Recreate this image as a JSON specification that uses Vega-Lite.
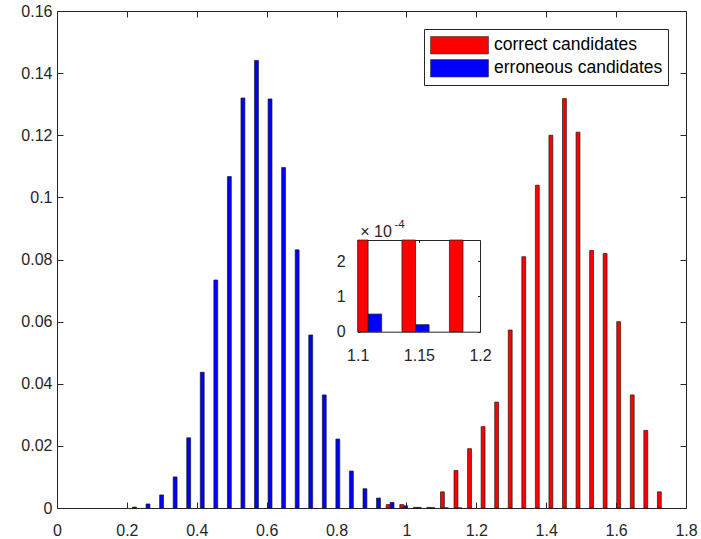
{
  "$schema": "https://vega.github.io/schema/vega-lite/v6.json",
  "width": 629,
  "height": 497,
  "autosize": {"type": "none"},
  "padding": {"left": 57, "top": 11, "right": 15, "bottom": 31},
  "background": "white",
  "config": {
    "view": {"stroke": null},
    "font": "Liberation Sans",
    "axis": {
      "domainColor": "#262626",
      "tickColor": "#262626",
      "labelColor": "#262626",
      "labelFont": "Liberation Sans",
      "labelFontSize": 16,
      "tickSize": -6,
      "grid": false,
      "domainWidth": 1,
      "tickWidth": 1,
      "labelFlush": false,
      "labelOverlap": false
    },
    "legend": {
      "orient": "top-right",
      "offset": 18,
      "strokeColor": "#262626",
      "fillColor": "white",
      "padding": 5,
      "rowPadding": 0,
      "clipHeight": 22.5,
      "symbolType": "M-1,-0.3H1V0.3H-1Z",
      "symbolSize": 3364,
      "symbolOffset": 1,
      "symbolStrokeColor": "#333333",
      "symbolStrokeWidth": 0.6,
      "symbolOpacity": 1,
      "labelFont": "Liberation Sans",
      "labelFontSize": 17.5,
      "labelColor": "#000000",
      "labelOffset": 5,
      "labelLimit": 400
    }
  },
  "datasets": {
    "bins": [
      {"k": -23, "series": "erroneous candidates", "x0": 0.2161, "x1": 0.2272, "value": 0.0003},
      {"k": -22, "series": "erroneous candidates", "x0": 0.2549, "x1": 0.2660, "value": 0.0013},
      {"k": -21, "series": "erroneous candidates", "x0": 0.2937, "x1": 0.3048, "value": 0.0042},
      {"k": -20, "series": "erroneous candidates", "x0": 0.3325, "x1": 0.3436, "value": 0.0100},
      {"k": -19, "series": "erroneous candidates", "x0": 0.3713, "x1": 0.3824, "value": 0.0226},
      {"k": -18, "series": "erroneous candidates", "x0": 0.4101, "x1": 0.4212, "value": 0.0437},
      {"k": -17, "series": "erroneous candidates", "x0": 0.4489, "x1": 0.4600, "value": 0.0734},
      {"k": -16, "series": "erroneous candidates", "x0": 0.4877, "x1": 0.4988, "value": 0.1067},
      {"k": -15, "series": "erroneous candidates", "x0": 0.5265, "x1": 0.5376, "value": 0.1320},
      {"k": -14, "series": "erroneous candidates", "x0": 0.5653, "x1": 0.5764, "value": 0.1441},
      {"k": -13, "series": "erroneous candidates", "x0": 0.6041, "x1": 0.6152, "value": 0.1317},
      {"k": -12, "series": "erroneous candidates", "x0": 0.6429, "x1": 0.6540, "value": 0.1096},
      {"k": -11, "series": "erroneous candidates", "x0": 0.6817, "x1": 0.6928, "value": 0.0831},
      {"k": -10, "series": "erroneous candidates", "x0": 0.7205, "x1": 0.7316, "value": 0.0557},
      {"k": -9, "series": "erroneous candidates", "x0": 0.7593, "x1": 0.7704, "value": 0.0364},
      {"k": -8, "series": "erroneous candidates", "x0": 0.7981, "x1": 0.8092, "value": 0.0222},
      {"k": -7, "series": "erroneous candidates", "x0": 0.8369, "x1": 0.8480, "value": 0.0119},
      {"k": -6, "series": "erroneous candidates", "x0": 0.8757, "x1": 0.8868, "value": 0.0062},
      {"k": -5, "series": "erroneous candidates", "x0": 0.9145, "x1": 0.9256, "value": 0.0032},
      {"k": -4, "series": "erroneous candidates", "x0": 0.9533, "x1": 0.9644, "value": 0.0018},
      {"k": -3, "series": "erroneous candidates", "x0": 0.9921, "x1": 1.0032, "value": 0.0007},
      {"k": -2, "series": "erroneous candidates", "x0": 1.0309, "x1": 1.0420, "value": 0.0002},
      {"k": -1, "series": "erroneous candidates", "x0": 1.0697, "x1": 1.0808, "value": 0.0001},
      {"k": 0, "series": "erroneous candidates", "x0": 1.1085, "x1": 1.1196, "value": 0.00005},
      {"k": 1, "series": "erroneous candidates", "x0": 1.1473, "x1": 1.1584, "value": 0.00002},
      {"k": -4, "series": "correct candidates", "x0": 0.9422, "x1": 0.9533, "value": 0.0011},
      {"k": -3, "series": "correct candidates", "x0": 0.9810, "x1": 0.9921, "value": 0.0011},
      {"k": -2, "series": "correct candidates", "x0": 1.0198, "x1": 1.0309, "value": 0.0002},
      {"k": -1, "series": "correct candidates", "x0": 1.0586, "x1": 1.0697, "value": 0.0002},
      {"k": 0, "series": "correct candidates", "x0": 1.0974, "x1": 1.1085, "value": 0.0052},
      {"k": 1, "series": "correct candidates", "x0": 1.1362, "x1": 1.1473, "value": 0.0121},
      {"k": 2, "series": "correct candidates", "x0": 1.1750, "x1": 1.1861, "value": 0.0191},
      {"k": 3, "series": "correct candidates", "x0": 1.2138, "x1": 1.2249, "value": 0.0262},
      {"k": 4, "series": "correct candidates", "x0": 1.2526, "x1": 1.2637, "value": 0.0341},
      {"k": 5, "series": "correct candidates", "x0": 1.2914, "x1": 1.3025, "value": 0.0573},
      {"k": 6, "series": "correct candidates", "x0": 1.3302, "x1": 1.3413, "value": 0.0809},
      {"k": 7, "series": "correct candidates", "x0": 1.3690, "x1": 1.3801, "value": 0.1039},
      {"k": 8, "series": "correct candidates", "x0": 1.4078, "x1": 1.4189, "value": 0.1200},
      {"k": 9, "series": "correct candidates", "x0": 1.4466, "x1": 1.4577, "value": 0.1318},
      {"k": 10, "series": "correct candidates", "x0": 1.4854, "x1": 1.4965, "value": 0.1210},
      {"k": 11, "series": "correct candidates", "x0": 1.5242, "x1": 1.5353, "value": 0.0829},
      {"k": 12, "series": "correct candidates", "x0": 1.5630, "x1": 1.5741, "value": 0.0819},
      {"k": 13, "series": "correct candidates", "x0": 1.6018, "x1": 1.6129, "value": 0.0600},
      {"k": 14, "series": "correct candidates", "x0": 1.6406, "x1": 1.6517, "value": 0.0364},
      {"k": 15, "series": "correct candidates", "x0": 1.6794, "x1": 1.6905, "value": 0.0250},
      {"k": 16, "series": "correct candidates", "x0": 1.7182, "x1": 1.7293, "value": 0.0052}
    ]
  },
  "layer": [
    {
      "data": {"name": "bins"},
      "mark": {"type": "bar", "stroke": "#1a1a1a", "strokeWidth": 0.7},
      "encoding": {
        "x": {
          "field": "x0", "type": "quantitative",
          "scale": {"domain": [0, 1.8], "nice": false, "zero": false},
          "axis": {"orient": "bottom", "title": null, "values": [0, 0.2, 0.4, 0.6, 0.8, 1, 1.2, 1.4, 1.6, 1.8], "format": "~g", "labelPadding": 20}
        },
        "x2": {"field": "x1"},
        "y": {
          "field": "value", "type": "quantitative",
          "scale": {"domain": [0, 0.16], "nice": false},
          "axis": {"orient": "left", "title": null, "values": [0, 0.02, 0.04, 0.06, 0.08, 0.1, 0.12, 0.14, 0.16], "format": "~g", "labelPadding": 11}
        },
        "y2": {"datum": 0},
        "color": {
          "field": "series", "type": "nominal",
          "scale": {"domain": ["correct candidates", "erroneous candidates"], "range": ["#ff0000", "#0000ff"]},
          "legend": {"title": null}
        }
      }
    },
    {
      "data": {"name": "bins"},
      "mark": {"type": "bar", "opacity": 0},
      "encoding": {
        "x": {
          "field": "x0", "type": "quantitative",
          "scale": {"domain": [0, 1.8], "nice": false, "zero": false},
          "axis": {"orient": "top", "title": null, "labels": false, "values": [0, 0.2, 0.4, 0.6, 0.8, 1, 1.2, 1.4, 1.6, 1.8]}
        },
        "x2": {"field": "x1"},
        "y": {
          "field": "value", "type": "quantitative",
          "scale": {"domain": [0, 0.16], "nice": false},
          "axis": {"orient": "right", "title": null, "labels": false, "values": [0, 0.02, 0.04, 0.06, 0.08, 0.1, 0.12, 0.14, 0.16]}
        },
        "y2": {"datum": 0}
      }
    },
    {
      "data": {"name": "bins"},
      "transform": [{"filter": "datum.k >= 0 && datum.k <= 2"}],
      "mark": {"type": "bar", "stroke": "#1a1a1a", "strokeWidth": 0.7},
      "encoding": {
        "x": {
          "field": "x0", "type": "quantitative",
          "scale": {"domain": [1.1, 1.2], "range": [300.7, 423], "nice": false, "zero": false, "clamp": true},
          "axis": {"orient": "bottom", "offset": -176.3, "title": null, "values": [1.1, 1.15, 1.2], "format": "~g", "tickSize": -2.5, "labelPadding": 18}
        },
        "x2": {"field": "x1"},
        "y": {
          "field": "value", "type": "quantitative",
          "scale": {"domain": [0, 0.00026], "range": [320.7, 229], "nice": false, "clamp": true},
          "axis": {
            "orient": "left", "offset": -300.7, "title": "× 10",
            "titleAngle": 0, "titleAlign": "left", "titleBaseline": "alphabetic",
            "titleX": 2, "titleY": 225, "titleFontSize": 16, "titleFontWeight": "normal",
            "titleFont": "Liberation Sans", "titleColor": "#262626",
            "values": [0, 0.0001, 0.0002], "labelExpr": "format(datum.value * 10000, '~g')",
            "tickSize": -2.5, "labelPadding": 15
          }
        },
        "y2": {"datum": 0},
        "color": {
          "field": "series", "type": "nominal",
          "scale": {"domain": ["correct candidates", "erroneous candidates"], "range": ["#ff0000", "#0000ff"]},
          "legend": null
        }
      }
    },
    {
      "data": {"name": "bins"},
      "transform": [{"filter": "datum.k >= 0 && datum.k <= 2"}],
      "mark": {"type": "bar", "opacity": 0},
      "encoding": {
        "x": {
          "field": "x0", "type": "quantitative",
          "scale": {"domain": [1.1, 1.2], "range": [300.7, 423], "nice": false, "zero": false, "clamp": true},
          "axis": {
            "orient": "top", "offset": -229, "title": "-4", "labels": false, "values": [1.1, 1.15, 1.2], "tickSize": -2.5,
            "titleAngle": 0, "titleAlign": "left", "titleBaseline": "alphabetic",
            "titleX": 337, "titleY": -13, "titleFontSize": 11.5, "titleFontWeight": "normal",
            "titleFont": "Liberation Sans", "titleColor": "#262626"
          }
        },
        "x2": {"field": "x1"},
        "y": {
          "field": "value", "type": "quantitative",
          "scale": {"domain": [0, 0.00026], "range": [320.7, 229], "nice": false, "clamp": true},
          "axis": {"orient": "right", "offset": -206, "title": null, "labels": false, "values": [0, 0.0001, 0.0002], "tickSize": -2.5}
        },
        "y2": {"datum": 0}
      }
    }
  ],
  "resolve": {
    "scale": {"x": "independent", "y": "independent"},
    "axis": {"x": "independent", "y": "independent"}
  }
}
